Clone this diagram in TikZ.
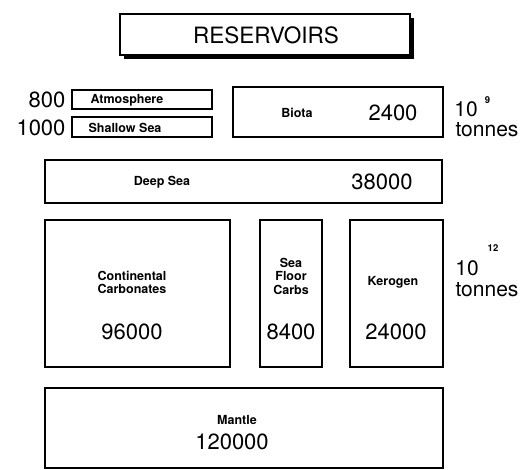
\documentclass[tikz,border=0pt]{standalone}
\usepackage{fontspec}
\setmainfont{TeX Gyre Heros}
\begin{document}
\begin{tikzpicture}[x=1pt,y=-1pt,
  box/.style={draw=black,line width=2.8pt,fill=white,inner sep=0pt,outer sep=0pt},
  sbox/.style={draw=black,line width=2.2pt,fill=white,inner sep=0pt,outer sep=0pt},
  lab/.style={font=\bfseries\fontsize{12.5}{13.5}\selectfont,inner sep=0pt,align=center},
  num/.style={font=\fontsize{22}{24}\selectfont,inner sep=0pt},
  unit/.style={font=\fontsize{21}{23}\selectfont,inner sep=0pt},
  sup/.style={font=\bfseries\fontsize{9.5}{10}\selectfont,inner sep=0pt}]
\useasboundingbox (0,0) rectangle (520,470);
% title with shadow
\fill[black] (124,18) rectangle (414,59);
\node[sbox,minimum width=290pt,minimum height=41pt] (res) at (265,34.5) {};
\node[font=\fontsize{22.5}{24}\selectfont,inner sep=0pt] (restxt) at (266,35.5) {RESERVOIRS};
% top row
\node[sbox,minimum width=140pt,minimum height=19pt] (atm) at (142,99.5) {};
\node[lab] (atmtxt) at (127,100) {Atmosphere};
\node[num] (atmnum) at (47,100) {800};
\node[sbox,minimum width=140pt,minimum height=20pt] (shs) at (142,127) {};
\node[lab] (shstxt) at (125,127.5) {Shallow Sea};
\node[num] (shsnum) at (41,127.5) {1000};
\node[box,minimum width=210pt,minimum height=50pt] (bio) at (338,112) {};
\node[lab] (biotxt) at (297,112.5) {Biota};
\node[num] (bionum) at (393,113) {2400};
\node[unit] (ten9) at (466,109) {10};
\node[sup] (sup9) at (487.5,100) {9};
\node[unit] (ton9) at (487,130) {tonnes};
% deep sea
\node[box,minimum width=397pt,minimum height=43pt] (deep) at (243.5,181.5) {};
\node[lab] (deeptxt) at (162,182) {Deep Sea};
\node[num] (deepnum) at (382,182) {38000};
% middle row
\node[box,minimum width=185pt,minimum height=147pt] (cont) at (137.5,293.5) {};
\node[lab] (conttxt) at (132,282.5) {Continental\\Carbonates};
\node[num] (contnum) at (132,332) {96000};
\node[box,minimum width=62pt,minimum height=147pt] (sfc) at (291,293.5) {};
\node[lab] (sfctxt) at (291,276) {Sea\\Floor\\Carbs};
\node[num] (sfcnum) at (291,332) {8400};
\node[box,minimum width=93pt,minimum height=147pt] (ker) at (396.5,293.5) {};
\node[lab] (kertxt) at (393,282) {Kerogen};
\node[num] (kernum) at (396,332) {24000};
\node[unit] (ten12) at (467,268) {10};
\node[sup] (sup12) at (493,248) {12};
\node[unit] (ton12) at (487,290) {tonnes};
% mantle
\node[box,minimum width=398pt,minimum height=80pt] (man) at (244,428) {};
\node[lab] (mantxt) at (237,420) {Mantle};
\node[num] (mannum) at (232,442) {120000};
\end{tikzpicture}
\end{document}
